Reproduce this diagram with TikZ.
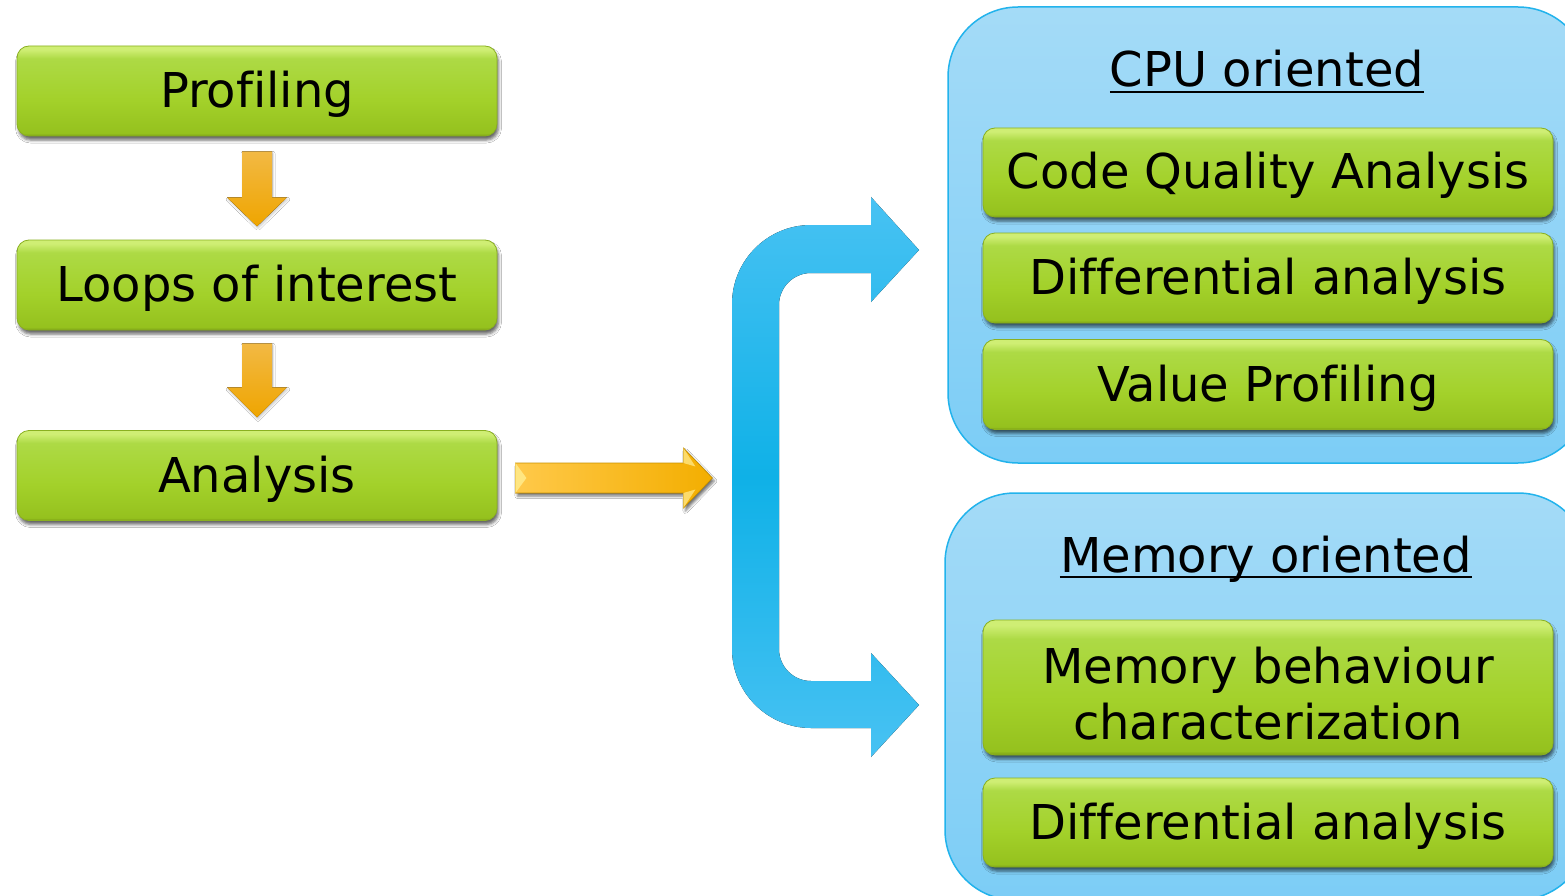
\documentclass[tikz,border=0pt]{standalone}
\usepackage{fontspec}
\setmainfont{DejaVu Sans}[Ligatures=NoCommon]
\usetikzlibrary{shadows.blur,calc}
\definecolor{gT0}{HTML}{CFEE74}
\definecolor{gT1}{HTML}{ADDA45}
\definecolor{gM}{HTML}{A3D12A}
\definecolor{gB1}{HTML}{95C11E}
\definecolor{gB0}{HTML}{7B9F16}
\definecolor{gEdge}{HTML}{8AB020}
\definecolor{gShadow}{HTML}{4A5A20}
\definecolor{pTop}{HTML}{A4DBF7}
\definecolor{pBot}{HTML}{7CCDF6}
\definecolor{pEdge}{HTML}{22B3EC}
\definecolor{bA}{HTML}{48C2F3}
\definecolor{bM}{HTML}{0FB1E7}
\definecolor{oT}{HTML}{F2B944}
\definecolor{oB}{HTML}{EFA500}
\definecolor{hL}{HTML}{FFC94A}
\definecolor{hR}{HTML}{F3AE00}
\definecolor{hEdge}{HTML}{C99200}
\definecolor{hLight}{HTML}{FFE682}
\pgfdeclareverticalshading{greenbar}{100bp}{color(0bp)=(gB0); color(25bp)=(gB0); color(26.5bp)=(gB1); color(45bp)=(gM); color(68bp)=(gT1); color(73bp)=(gT0); color(75bp)=(gT0); color(100bp)=(gT0)}
\tikzset{
  gbox/.style={rectangle, rounded corners=12pt, shading=greenbar, draw=gEdge, line width=0.8pt,
    blur shadow={shadow xshift=1.5pt, shadow yshift=-4pt, shadow blur radius=3pt, shadow opacity=60, shadow blur extra rounding=2pt},
    font=\fontsize{48}{56}\selectfont, text height=36pt, text depth=3pt, inner sep=0pt},
  boxtext/.style={font=\fontsize{48}{56}\selectfont, inner sep=0pt, align=center},
  panel/.style={rounded corners=70pt, top color=pTop, bottom color=pBot, draw=pEdge, line width=1.5pt},
  titletext/.style={font=\fontsize{48}{56}\selectfont, inner sep=0pt, anchor=base},
  underl/.style={line width=2.5pt},
  goldarrow/.style={top color=oT, bottom color=oB,
    blur shadow={shadow xshift=1pt, shadow yshift=-2pt, shadow blur radius=2pt, shadow opacity=20}},
  goldright/.style={left color=hL, right color=hR, draw=hEdge, line width=0.6pt,
    blur shadow={shadow xshift=2pt, shadow yshift=-3pt, shadow blur radius=2.5pt, shadow opacity=55}},
  bracket/.style={top color=bA, bottom color=bA, middle color=bM}
}
\begin{document}
\begin{tikzpicture}[x=1pt,y=-1pt]
\clip (0,0) rectangle (1565,896);
\fill[white] (0,0) rectangle (1565,896);

% panels
\draw[panel] (948,7) rectangle (1588,463);
\draw[panel] (945,493) rectangle (1588,900);

% left column
\node[gbox, minimum width=480pt, minimum height=90pt] (prof) at (257,91) {Profiling};
\node[gbox, minimum width=480pt, minimum height=90pt] (loops) at (257,285) {Loops of interest};
\node[gbox, minimum width=480pt, minimum height=90pt] (ana) at (257,475.5) {Analysis};

% down arrows
\begin{scope}[shift={(prof.south)}]
  \fill[goldarrow] (-15,15) -- (15,15) -- (15,61) -- (30,61) -- (0,90) -- (-30,61) -- (-15,61) -- cycle;
\end{scope}
\begin{scope}[shift={(loops.south)}]
  \fill[goldarrow] (-15,13) -- (15,13) -- (15,57) -- (30,57) -- (0,87) -- (-30,57) -- (-15,57) -- cycle;
\end{scope}

% right gold arrow
\begin{scope}[shift={(ana.east)}]
  \filldraw[goldright] (18,-12.5) -- (186,-12.5) -- (186,-27.5) -- (215,2.5) -- (186,32.5) -- (186,17.5) -- (18,17.5) -- cycle;
  \fill[hLight] (18,-12.5) -- (29,2.5) -- (18,17.5) -- cycle;
  \fill[hLight, opacity=0.8] (186,-27.5) -- (198,-9) -- (186,-12.5) -- cycle;
  \fill[hLight, opacity=0.8] (186,32.5) -- (198,14) -- (186,17.5) -- cycle;
\end{scope}

% blue bracket
\fill[bracket] (871,197) -- (919,250) -- (871,302) -- (871,273) -- (811,273)
  .. controls (793.3,273) and (779,287.3) .. (779,305) -- (779,649)
  .. controls (779,666.7) and (793.3,681) .. (811,681) -- (871,681) -- (871,653)
  -- (919,705) -- (871,757) -- (871,728) -- (811,728)
  .. controls (767.4,728) and (732,692.4) .. (732,649) -- (732,304)
  .. controls (732,260.4) and (767.4,225) .. (811,225) -- (871,225) -- cycle;

% CPU oriented
\node[titletext] (cput) at (1267,87) {CPU oriented};
\draw[underl] ([yshift=-5pt]cput.base west) -- ([yshift=-5pt]cput.base east);
\node[gbox, minimum width=570pt, minimum height=89pt] (cqa) at (1268,172.5) {Code Quality Analysis};
\node[gbox, minimum width=570pt, minimum height=90pt] (dif1) at (1268,278) {Differential analysis};
\node[gbox, minimum width=570pt, minimum height=90pt] (val) at (1268,384.5) {Value Profiling};

% Memory oriented
\node[titletext] (memt) at (1266,572) {Memory oriented};
\draw[underl] ([yshift=-5pt]memt.base west) -- ([yshift=-5pt]memt.base east);
\node[gbox, minimum width=570pt, minimum height=135pt] (mbeh) at (1268,687.5) {};
\node[boxtext, yshift=-6pt] (mbehtext) at (mbeh.center) {Memory behaviour\\characterization};
\node[gbox, minimum width=570pt, minimum height=89pt] (dif2) at (1268,822.5) {Differential analysis};
\end{tikzpicture}
\end{document}
